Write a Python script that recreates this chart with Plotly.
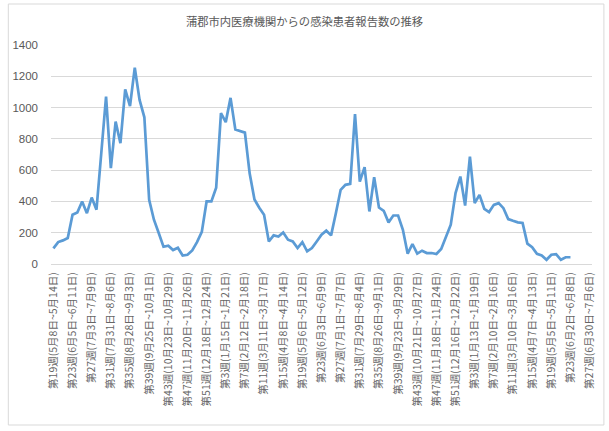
import plotly.graph_objects as go

# weekly reports, 2022 W19 .. 2024 W23
reports = [
    100, 140, 151, 166, 315, 329, 400, 325, 425, 347,
    708, 1070, 613, 910, 772, 1117, 1010, 1255, 1049, 938,
    410, 283, 198, 110, 117, 89, 104, 54, 59, 87,
    140, 205, 400, 400, 487, 964, 907, 1062, 860, 850,
    840, 578, 412, 360, 315, 144, 183, 176, 202, 155,
    144, 102, 140, 81, 102, 144, 187, 213, 183, 325,
    474, 506, 512, 959, 527, 619, 336, 555, 361, 340,
    266, 310, 310, 219, 66, 128, 66, 85, 70, 70,
    64, 96, 176, 251, 453, 559, 374, 687, 389, 442,
    353, 332, 378, 389, 357, 287, 276, 266, 262, 130,
    107, 65, 54, 27, 59, 63, 27, 43, 43,
]
n_weeks = 113  # category slots on the axis (up to 2024 W27)

tick_labels = [
    "第19週(5月8日~5月14日)", "第23週(6月5日~6月11日)", "第27週(7月3日~7月9日)",
    "第31週(7月31日~8月6日)", "第35週(8月28日~9月3日)", "第39週(9月25日~10月1日)",
    "第43週(10月23日~10月29日)", "第47週(11月20日~11月26日)", "第51週(12月18日~12月24日)",
    "第3週(1月15日~1月21日)", "第7週(2月12日~2月18日)", "第11週(3月11日~3月17日)",
    "第15週(4月8日~4月14日)", "第19週(5月6日~5月12日)", "第23週(6月3日~6月9日)",
    "第27週(7月1日~7月7日)", "第31週(7月29日~8月4日)", "第35週(8月26日~9月1日)",
    "第39週(9月23日~9月29日)", "第43週(10月21日~10月27日)", "第47週(11月18日~11月24日)",
    "第51週(12月16日~12月22日)", "第3週(1月13日~1月19日)", "第7週(2月10日~2月16日)",
    "第11週(3月10日~3月16日)", "第15週(4月7日~4月13日)", "第19週(5月5日~5月11日)",
    "第23週(6月2日~6月8日)", "第27週(6月30日~7月6日)",
]
tick_step = 4

W, H = 609, 431
ml, mr, mt, mb = 47, 17, 45, 167
pw, ph = W - ml - mr, H - mt - mb

fig = go.Figure()
fig.add_trace(go.Scatter(
    x=list(range(len(reports))), y=reports,
    mode="lines", line=dict(color="#5B9BD5", width=2.7),
    showlegend=False, hoverinfo="y"
))

# chart-area border (Excel style)
fig.add_shape(
    type="rect", xref="paper", yref="paper",
    x0=(4 - ml) / pw, x1=(W - 5 - ml) / pw,
    y0=-(H - 6 - mt - ph) / ph, y1=1 + (mt - 4) / ph,
    line=dict(color="#d9d9d9", width=1), layer="below"
)

fig.update_layout(
    width=W, height=H,
    margin=dict(l=ml, r=mr, t=mt, b=mb),
    paper_bgcolor="white", plot_bgcolor="white",
    font=dict(family="Noto Sans CJK JP", size=11, color="#595959"),
    title=dict(
        text="蒲郡市内医療機関からの感染患者報告数の推移",
        x=0.5, xanchor="center", xref="container",
        y=1 - 22 / H, yanchor="middle", yref="container",
        font=dict(size=11.3, color="#595959")
    ),
    xaxis=dict(
        range=[-0.5, n_weeks - 0.5],
        tickvals=list(range(0, n_weeks, tick_step)),
        ticktext=tick_labels,
        tickangle=-90,
        tickfont=dict(size=10.5, color="#666666"),
        showgrid=False, zeroline=False,
        showline=True, linecolor="#d9d9d9",
        ticks="", ticklabelstandoff=3
    ),
    yaxis=dict(
        range=[0, 1400], dtick=200,
        gridcolor="#d9d9d9", zeroline=False,
        ticks="", ticklabelstandoff=12,
        tickfont=dict(size=11.5, family="Liberation Sans")
    ),
)

# drop the page's default body margin so the figure sits at (0, 0)
fig.write_html(
    "out.html",
    config={"displayModeBar": False},
    post_script="document.body.style.margin='0';",
)
